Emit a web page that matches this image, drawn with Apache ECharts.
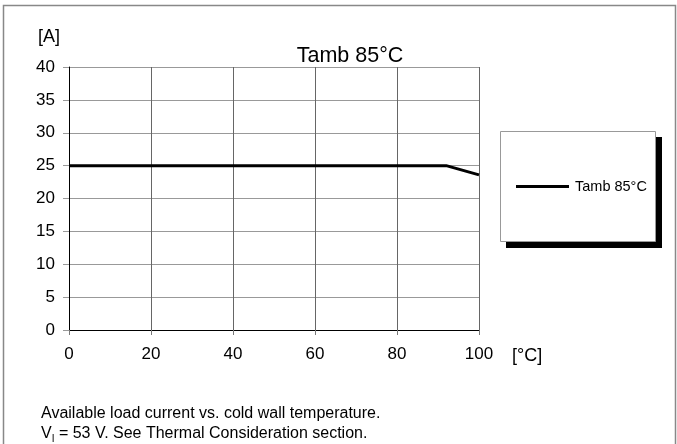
<!DOCTYPE html>
<html><head><meta charset="utf-8">
<script src="https://cdn.jsdelivr.net/npm/echarts@6/dist/echarts.min.js"></script>
<style>html,body{margin:0;padding:0;background:#fff}#c{width:677px;height:444px}</style>
</head><body><div id="c"></div>
<script>
var seriesName = 'Tamb 85°C';
var tempC = [0, 92, 100];
var currentA = [25, 25, 23.6];
var xTicks = [0, 20, 40, 60, 80, 100];
var yTicks = [0, 5, 10, 15, 20, 25, 30, 35, 40];

var F = '"Liberation Sans", Arial, sans-serif';
var chart = echarts.init(document.getElementById('c'), null, {renderer: 'canvas'});
chart.setOption({
  animation: false,
  backgroundColor: '#fff',
  title: {text: seriesName, left: 345, top: 40, textAlign: 'center',
    textStyle: {fontFamily: F, fontSize: 21.5, fontWeight: 'normal', color: '#000'}},
  grid: {left: 69, right: 198, top: 67, bottom: 114, containLabel: false},
  legend: {
    left: 516, top: 179, orient: 'vertical', padding: 0,
    icon: 'rect', itemWidth: 53, itemHeight: 3, itemGap: 0,
    textStyle: {fontFamily: F, fontSize: 14.5, color: '#000', padding: [0, 0, 0, 1]},
    data: [seriesName], z: 10
  },
  xAxis: {
    type: 'value', min: xTicks[0], max: xTicks[xTicks.length - 1], interval: 20,
    name: '[°C]', nameLocation: 'end', nameGap: 33,
    nameTextStyle: {fontFamily: F, fontSize: 18, color: '#000', verticalAlign: 'top', padding: [17, 0, 0, 0]},
    axisLine: {lineStyle: {color: '#000', width: 1}},
    axisTick: {show: true, length: 5, lineStyle: {color: '#777'}},
    axisLabel: {fontFamily: F, fontSize: 17, color: '#000', margin: 16},
    splitLine: {show: true, lineStyle: {color: '#666', width: 1}}
  },
  yAxis: {
    type: 'value', min: yTicks[0], max: yTicks[yTicks.length - 1], interval: 5,
    name: '[A]', nameLocation: 'end', nameGap: 21,
    nameTextStyle: {fontFamily: F, fontSize: 18, color: '#000', align: 'right', padding: [0, 9, 0, 0]},
    axisLine: {show: true, lineStyle: {color: '#000', width: 1}},
    axisTick: {show: true, length: 6, lineStyle: {color: '#999'}},
    axisLabel: {fontFamily: F, fontSize: 17, color: '#000', margin: 14},
    splitLine: {show: true, lineStyle: {color: '#999', width: 1}}
  },
  series: [{
    name: seriesName, type: 'line', showSymbol: false, symbol: 'none',
    data: tempC.map(function (t, i) { return [t, currentA[i]]; }),
    lineStyle: {color: '#000', width: 3}, itemStyle: {color: '#000'}
  }],
  graphic: [
    {type: 'rect', shape: {x: 3.5, y: 5.5, width: 672, height: 500},
     style: {fill: 'none', stroke: '#888', lineWidth: 1.5}, silent: true, z: -1},
    {type: 'rect', shape: {x: 506, y: 137, width: 156, height: 111},
     style: {fill: '#000'}, silent: true, z: 1},
    {type: 'rect', shape: {x: 500.5, y: 131.5, width: 155, height: 110},
     style: {fill: '#fff', stroke: '#999', lineWidth: 1}, silent: true, z: 2},
    {type: 'text', left: 41, top: 404, style: {
      text: 'Available load current vs. cold wall temperature.\n{v|V}{s|I} = 53 V. See Thermal Consideration section.',
      font: '16px ' + F, fill: '#000', lineHeight: 20,
      rich: {v: {fontFamily: F, fontSize: 16, fill: '#000'}, s: {fontFamily: F, fontSize: 10, fill: '#000', verticalAlign: 'bottom', padding: [7, 0, 0, 0]}}
    }}
  ]
});
</script></body></html>
